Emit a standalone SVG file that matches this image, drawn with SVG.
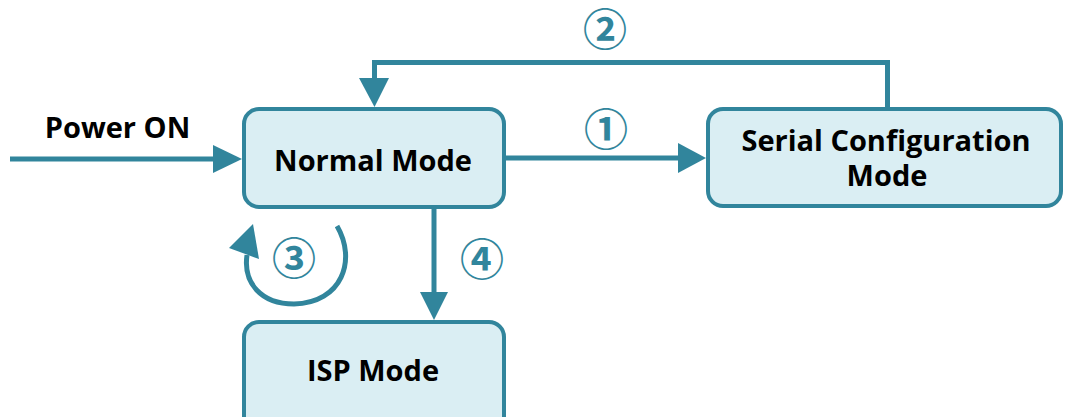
<svg xmlns="http://www.w3.org/2000/svg" width="1065" height="417" viewBox="0 0 1065 417">
  <style>
    .box { fill: #DAEEF3; stroke: #31859C; stroke-width: 4; }
    .lbl { font-family: "Open Sans", "Liberation Sans", sans-serif; font-weight: bold; font-size: 29px; fill: #000; text-anchor: middle; }
    .wire { fill: none; stroke: #31859C; stroke-width: 5; }
    .head { fill: #31859C; }
    .num { font-family: "Noto Sans CJK KR", "DejaVu Sans", sans-serif; font-weight: bold; font-size: 44px; fill: #31859C; text-anchor: middle; }
  </style>
  <rect width="1065" height="417" fill="#fff"/>
  <g id="connectors">
    <!-- Power ON -->
    <line class="wire" x1="10" y1="159" x2="215" y2="159"/>
    <polygon class="head" points="213,145 242,159 213,173"/>
    <!-- 1: Normal to Serial -->
    <line class="wire" x1="506" y1="158" x2="680" y2="158"/>
    <polygon class="head" points="678,143 706,158 678,173"/>
    <!-- 2: Serial back to Normal -->
    <polyline class="wire" points="887.5,107 887.5,62.5 374.5,62.5 374.5,80"/>
    <polygon class="head" points="359,78 389,78 374.5,107"/>
    <!-- 4: Normal to ISP -->
    <line class="wire" x1="434" y1="209" x2="434" y2="294"/>
    <polygon class="head" points="420,292 448,292 434,320"/>
    <!-- 3: self loop -->
    <path class="wire" stroke-width="6" d="M337,226 C357,260 342,303 294,304 C261,304 243,283 247,255"/>
    <polygon class="head" points="253,224 229,248 259,259"/>
  </g>
  <g id="labels">
    <text class="lbl" x="117.5" y="138">Power ON</text>
    <text class="num" x="606" y="146">①</text>
    <text class="num" x="605" y="46">②</text>
    <text class="num" x="294" y="275">③</text>
    <text class="num" x="482" y="276">④</text>
  </g>
  <g id="normal">
    <rect class="box" x="244" y="109" width="260" height="98" rx="15"/>
    <text class="lbl" x="373" y="171">Normal Mode</text>
  </g>
  <g id="serial">
    <rect class="box" x="708" y="109" width="353" height="97" rx="15"/>
    <text class="lbl" x="886" y="151">Serial Configuration</text>
    <text class="lbl" x="887" y="186">Mode</text>
  </g>
  <g id="isp">
    <rect class="box" x="244" y="322" width="260" height="120" rx="15"/>
    <text class="lbl" x="373" y="381">ISP Mode</text>
  </g>
</svg>
